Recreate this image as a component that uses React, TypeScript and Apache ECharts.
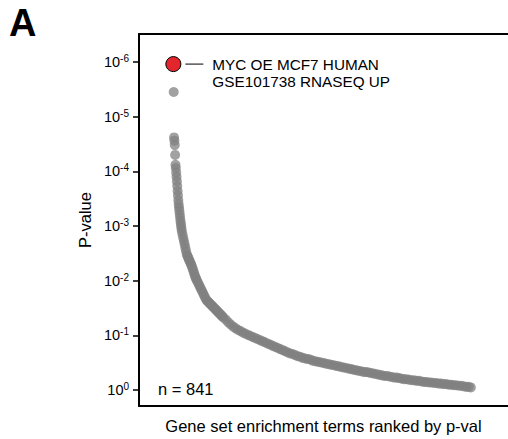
import React, { useEffect, useRef } from "react";
import * as echarts from "echarts";

const FONT = "'Liberation Sans', Arial, Helvetica, sans-serif";

// Highlighted top term
const topTermName = "MYC OE MCF7 HUMAN\nGSE101738 RNASEQ UP";
const topTermRank = 1;
const topTermMinusLog10P = 5.96;

// Remaining enrichment terms: rank and -log10(p)
const ranks = [
  2, 3, 4, 5, 6, 7, 8, 9, 10, 11, 12, 13, 14, 15, 16, 17, 18, 19, 20, 21, 22, 23, 24, 25,
  27, 29, 31, 33, 35, 37, 39, 41, 43, 45, 47, 49, 51, 53, 55, 57, 59, 61, 63, 65, 67,
  70, 73, 76, 79, 82, 85, 88, 91, 94, 97, 100, 103, 106, 109, 112, 115, 118, 121, 124, 127, 130, 133, 136, 139,
  142, 149, 156, 163, 170, 177, 184, 191, 198, 205, 212, 219, 226, 233, 240, 247, 254, 261, 268, 275, 282, 289,
  296, 303, 310, 317, 324, 331, 338, 345, 352, 359, 366, 373, 380, 387, 394, 401, 408, 415, 422, 429, 436, 443,
  450, 457, 464, 471, 478, 485, 492, 499, 506, 513, 520, 527, 534, 541, 548, 555, 562, 569, 576, 583, 590, 597,
  604, 611, 618, 625, 632, 639, 646, 653, 660, 667, 674, 681, 688, 695, 702, 709, 716, 723, 730, 737, 744, 751,
  758, 765, 772, 779, 786, 793, 800, 807, 814, 821, 828, 835, 841,
];
const minusLog10P = [
  5.45, 4.62, 4.56, 4.48, 4.3, 4.12, 4.06, 3.98, 3.9, 3.82, 3.73, 3.64, 3.56, 3.47, 3.4, 3.34, 3.28, 3.22, 3.16, 3.1, 3.05, 3.0, 2.95, 2.9,
  2.84, 2.78, 2.72, 2.66, 2.6, 2.54, 2.48, 2.45, 2.42, 2.39, 2.36, 2.33, 2.3, 2.27, 2.23, 2.19, 2.15, 2.11, 2.07, 2.04, 2.01,
  1.97, 1.93, 1.89, 1.85, 1.81, 1.77, 1.73, 1.69, 1.65, 1.63, 1.61, 1.59, 1.57, 1.55, 1.53, 1.51, 1.49, 1.47, 1.45, 1.43, 1.41, 1.39, 1.37, 1.35,
  1.33, 1.29, 1.24, 1.2, 1.16, 1.13, 1.1, 1.08, 1.05, 1.03, 1.01, 0.99, 0.97, 0.95, 0.93, 0.91, 0.89, 0.87, 0.85, 0.83, 0.81, 0.79,
  0.77, 0.75, 0.73, 0.71, 0.69, 0.67, 0.66, 0.64, 0.62, 0.61, 0.59, 0.58, 0.57, 0.56, 0.54, 0.53, 0.52, 0.51, 0.5, 0.49, 0.48, 0.47,
  0.46, 0.45, 0.44, 0.43, 0.42, 0.41, 0.4, 0.39, 0.38, 0.37, 0.36, 0.35, 0.34, 0.33, 0.33, 0.32, 0.31, 0.3, 0.29, 0.28, 0.27, 0.26,
  0.26, 0.25, 0.24, 0.23, 0.23, 0.22, 0.21, 0.2, 0.2, 0.19, 0.18, 0.18, 0.17, 0.17, 0.16, 0.15, 0.15, 0.14, 0.14, 0.13, 0.13, 0.12,
  0.12, 0.11, 0.11, 0.1, 0.1, 0.09, 0.09, 0.08, 0.08, 0.07, 0.06, 0.06, 0.05,
];

// Y tick exponents (p = 10^-k)
const yTickExponents = [0, 1, 2, 3, 4, 5, 6];
const termCount = 841;

export default function App() {
  const ref = useRef<HTMLDivElement>(null);

  useEffect(() => {
    if (!ref.current) return;
    const chart = echarts.init(ref.current, undefined, { renderer: "svg" });
    const grayData = ranks.map((r, i) => [r, minusLog10P[i]]);
    const axisLineStyle = { color: "#000", width: 2 };

    chart.setOption({
      animation: false,
      backgroundColor: "#fff",
      grid: {
        left: 139,
        top: 34,
        width: 370,
        height: 373,
      },
      xAxis: [
        {
          type: "value",
          position: "bottom",
          min: -96,
          max: 946,
          axisLine: { show: true, onZero: false, lineStyle: axisLineStyle },
          axisTick: { show: false },
          axisLabel: { show: false },
          splitLine: { show: false },
          name: "Gene set enrichment terms ranked by p-val",
          nameLocation: "middle",
          nameGap: 11,
          nameTextStyle: { fontFamily: FONT, fontSize: 16.5, color: "#000" },
        },
        {
          type: "value",
          position: "top",
          min: -96,
          max: 946,
          axisLine: { show: true, onZero: false, lineStyle: axisLineStyle },
          axisTick: { show: false },
          axisLabel: { show: false },
          splitLine: { show: false },
        },
      ],
      yAxis: {
        type: "value",
        min: -0.29,
        max: 6.51,
        axisLine: { show: true, onZero: false, lineStyle: axisLineStyle },
        axisTick: {
          show: true,
          length: 6,
          customValues: yTickExponents,
          lineStyle: { color: "#000", width: 1.5 },
        },
        axisLabel: {
          show: true,
          customValues: yTickExponents,
          margin: 10,
          formatter: (v: number) => `{b|10}{s|${v === 0 ? "0" : "-" + v}}`,
          rich: {
            b: { fontFamily: FONT, fontSize: 14.5, color: "#000", lineHeight: 17 },
            s: { fontFamily: FONT, fontSize: 10, color: "#000", lineHeight: 11, verticalAlign: "top" },
          },
        },
        splitLine: { show: false },
        name: "P-value",
        nameLocation: "middle",
        nameGap: 40,
        nameTextStyle: { fontFamily: FONT, fontSize: 16.5, color: "#000" },
      },
      series: [
        {
          type: "scatter",
          data: grayData,
          symbolSize: 10,
          itemStyle: { color: "#808080", opacity: 0.74 },
          emphasis: { disabled: true },
          z: 2,
        },
        {
          type: "scatter",
          data: [[topTermRank, topTermMinusLog10P]],
          symbolSize: 15,
          itemStyle: { color: "#e3262b", borderColor: "#000", borderWidth: 1, opacity: 1 },
          emphasis: { disabled: true },
          z: 3,
        },
      ],
    });

    const p = chart.convertToPixel({ seriesIndex: 1 }, [topTermRank, topTermMinusLog10P]) as number[];
    chart.setOption({
      graphic: [
        {
          type: "text",
          left: 9,
          top: 4,
          style: {
            text: "A",
            fontFamily: FONT,
            fontSize: 38,
            lineHeight: 30,
            fontWeight: "bold",
            fill: "#000",
          },
        },
        {
          type: "line",
          shape: { x1: p[0] + 12, y1: p[1], x2: p[0] + 30, y2: p[1] },
          style: { stroke: "#000", lineWidth: 1 },
        },
        {
          type: "text",
          x: p[0] + 39,
          y: p[1] - 8,
          style: {
            text: topTermName,
            fontFamily: FONT,
            fontSize: 15.3,
            lineHeight: 17,
            fill: "#000",
            textVerticalAlign: "top",
          },
        },
        {
          type: "text",
          x: 158,
          y: 389,
          style: {
            text: `n = ${termCount}`,
            fontFamily: FONT,
            fontSize: 16.5,
            fill: "#000",
            textVerticalAlign: "middle",
          },
        },
      ],
    });

    return () => chart.dispose();
  }, []);

  return (
    <div
      ref={ref}
      style={{ position: "absolute", left: 0, top: 0, width: 508, height: 439 }}
    />
  );
}
